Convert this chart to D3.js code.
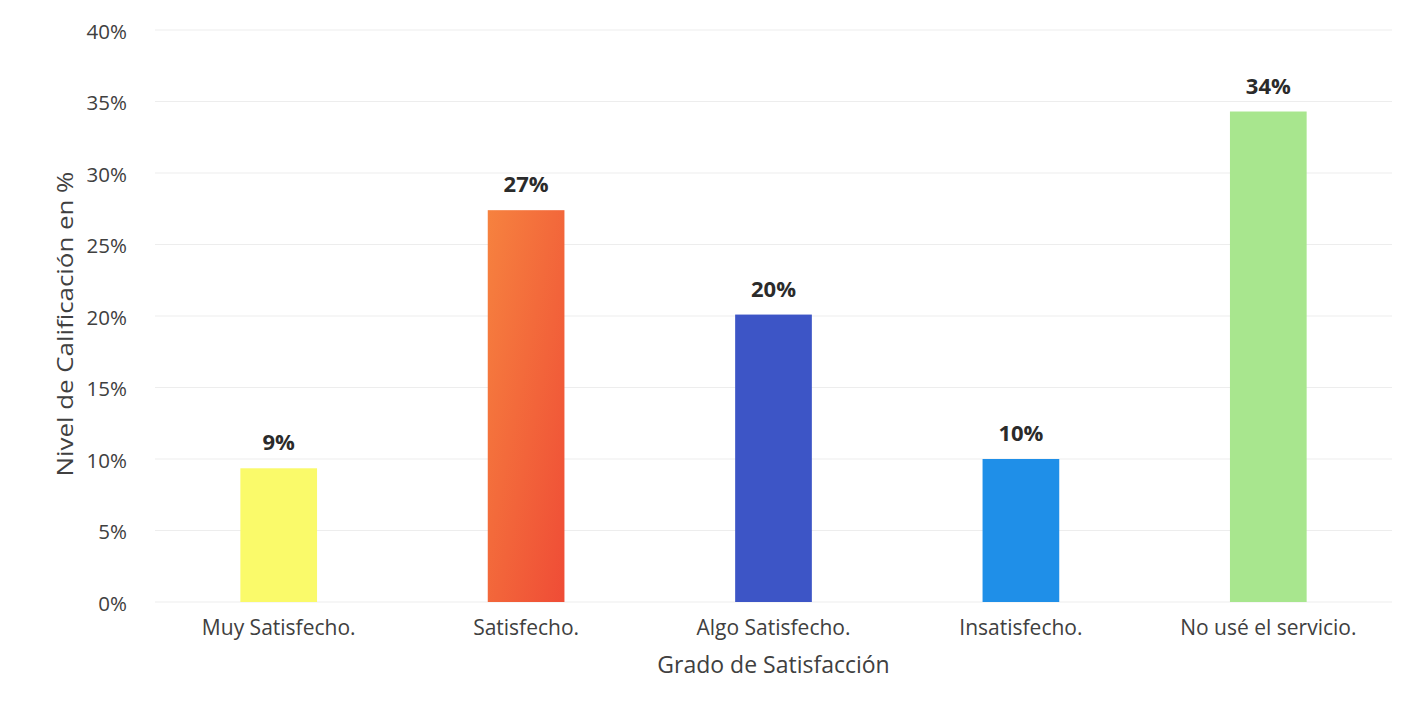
<!DOCTYPE html>
<html>
<head>
<meta charset="utf-8">
<script src="https://cdn.jsdelivr.net/npm/d3@7"></script>
<style>
  body { margin: 0; background: #fff; }
  svg text { font-family: "Open Sans", sans-serif; }
</style>
</head>
<body>
<svg id="chart" width="1420" height="708"></svg>
<script>
// datos
var categorias = ['Muy Satisfecho.', 'Satisfecho.', 'Algo Satisfecho.', 'Insatisfecho.', 'No usé el servicio.'];
var valores = [9.35, 27.4, 20.1, 10.0, 34.3];
var etiquetas = ['9%', '27%', '20%', '10%', '34%'];
var colores = ['#fafa6a', 'url(#naranja)', '#3d55c6', '#1f8fe8', '#a8e68e'];
var ticksY = [0, 5, 10, 15, 20, 25, 30, 35, 40];

var svg = d3.select('#chart');
var margin = { top: 30, right: 28, bottom: 106, left: 155 };
var width = 1420 - margin.left - margin.right;
var height = 708 - margin.top - margin.bottom;

// degradado de la barra naranja
var grad = svg.append('defs').append('linearGradient')
  .attr('id', 'naranja')
  .attr('x1', '0%').attr('y1', '0%')
  .attr('x2', '100%').attr('y2', '100%');
grad.append('stop').attr('offset', '0%').attr('stop-color', '#f6823f');
grad.append('stop').attr('offset', '100%').attr('stop-color', '#ef4c36');

var g = svg.append('g')
  .attr('transform', 'translate(' + margin.left + ',' + margin.top + ')');

var x = d3.scaleBand()
  .domain(categorias)
  .range([0, width])
  .paddingInner(0.69)
  .paddingOuter(0.345);

var y = d3.scaleLinear()
  .domain([0, 40])
  .range([height, 0]);

// lineas de cuadricula
g.append('g')
  .selectAll('line')
  .data(ticksY)
  .enter().append('line')
  .attr('x1', 0)
  .attr('x2', width)
  .attr('y1', function(d) { return y(d); })
  .attr('y2', function(d) { return y(d); })
  .attr('stroke', '#ededed')
  .attr('stroke-width', 1);

var yAxis = g.append('g')
  .call(d3.axisLeft(y).tickValues(ticksY).tickSize(0).tickPadding(28)
    .tickFormat(function(d) { return d + '%'; }));
yAxis.select('.domain').remove();
yAxis.selectAll('text')
  .attr('fill', '#404040')
  .attr('dy', '0.4em')
  .style('font-size', '20.5px');

var xAxis = g.append('g')
  .attr('transform', 'translate(0,' + height + ')')
  .call(d3.axisBottom(x).tickSize(0).tickPadding(18));
xAxis.select('.domain').remove();
xAxis.selectAll('text')
  .attr('fill', '#404040')
  .style('font-size', '21px');

g.selectAll('.barra')
  .data(valores)
  .enter().append('rect')
  .attr('class', 'barra')
  .attr('x', function(d, i) { return x(categorias[i]); })
  .attr('width', x.bandwidth())
  .attr('y', function(d) { return y(d); })
  .attr('height', function(d) { return height - y(d); })
  .attr('fill', function(d, i) { return colores[i]; });

g.selectAll('.etiqueta')
  .data(valores)
  .enter().append('text')
  .attr('class', 'etiqueta')
  .attr('x', function(d, i) { return x(categorias[i]) + x.bandwidth() / 2; })
  .attr('y', function(d) { return y(d) - 18; })
  .attr('text-anchor', 'middle')
  .attr('fill', '#2b2b2b')
  .style('font-size', '22px')
  .style('font-weight', 'bold')
  .text(function(d, i) { return etiquetas[i]; });

svg.append('text')
  .attr('x', margin.left + width / 2)
  .attr('y', 673)
  .attr('text-anchor', 'middle')
  .attr('fill', '#404040')
  .style('font-size', '23px')
  .text('Grado de Satisfacción');

svg.append('text')
  .attr('transform', 'translate(73,324) rotate(-90)')
  .attr('text-anchor', 'middle')
  .attr('fill', '#404040')
  .attr('textLength', 305)
  .attr('lengthAdjust', 'spacingAndGlyphs')
  .style('font-size', '22px')
  .text('Nivel de Calificación en %');
</script>
</body>
</html>
